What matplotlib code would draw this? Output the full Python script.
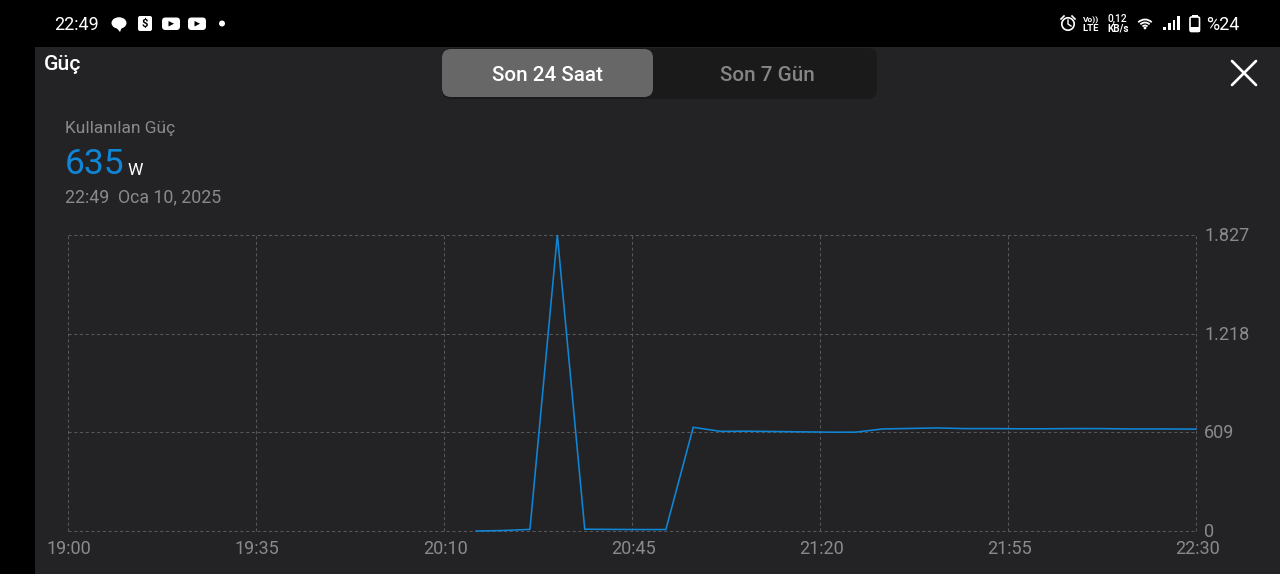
import matplotlib
matplotlib.use("Agg")
import matplotlib.pyplot as plt
from matplotlib.patches import Rectangle, FancyBboxPatch, Circle, Polygon, Ellipse, Arc
from matplotlib.transforms import ScaledTranslation

W, H = 1280, 574
plt.rcParams['font.family'] = ['Roboto', 'DejaVu Sans']

# ---- data ----
minutes = [76, 81, 86, 91.1, 96.2, 101.2, 106.2, 111.3, 116.4, 121.5, 126.5, 131.5, 136.6, 141.6,
           146.6, 151.7, 156.8, 161.8, 166.9, 171.9, 177, 182, 187.1, 192.2, 197.2, 202.3, 210]
power = [0, 3, 10, 1827, 11, 10, 9, 9, 640, 615, 616, 614, 612, 610,
         610, 630, 633, 636, 632, 632, 631, 631, 632, 632, 630, 630, 629]
x_ticks = [0, 35, 70, 105, 140, 175, 210]
x_labels = ["19:00", "19:35", "20:10", "20:45", "21:20", "21:55", "22:30"]
y_ticks = [0, 609, 1218, 1827]
y_labels = ["0", "609", "1.218", "1.827"]
title = "Güç"
tabs = ["Son 24 Saat", "Son 7 Gün"]
metric_label = "Kullanılan Güç"
metric_value = "635"
metric_unit = "W"
timestamp = "22:49  Oca 10, 2025"

BG = "#232325"
GRID = "#575759"
BLUE = "#0f86d6"
MUTED = "#8a8a8c"

fig = plt.figure(figsize=(W / 100, H / 100), dpi=100, facecolor="black")

# UI layer in pixel coordinates
ui = fig.add_axes([0, 0, 1, 1])
ui.set_xlim(0, W)
ui.set_ylim(H, 0)
ui.axis("off")
ui.add_patch(Rectangle((35, 47), W - 35, H - 47, fc=BG, ec="none"))

def txt(x, y, s, size, color, ha="left", weight="normal"):
    ui.text(x, y, s, fontsize=size, color=color, ha=ha, va="baseline", weight=weight)

# tabs
ui.add_patch(FancyBboxPatch((442, 48), 435, 51, boxstyle="round,pad=0,rounding_size=9",
                            fc="#1a1a1b", ec="none"))
ui.add_patch(FancyBboxPatch((442, 49), 211, 48, boxstyle="round,pad=0,rounding_size=9",
                            fc="#676768", ec="none"))
txt(547.5, 81, tabs[0], 14.9, "white", ha="center", weight="medium")
txt(767, 81, tabs[1], 14.9, "#858586", ha="center", weight="medium")

# header
txt(44, 70, title, 15.2, "white", weight="medium")
ui.plot([1232, 1256], [61, 85], color="white", lw=1.9, solid_capstyle="round")
ui.plot([1232, 1256], [85, 61], color="white", lw=1.9, solid_capstyle="round")
txt(65, 132.5, metric_label, 12.5, MUTED)
txt(65, 174, metric_value, 25.5, BLUE)
txt(127.5, 175, metric_unit, 12.5, "white")
txt(65, 202.5, timestamp, 12.8, MUTED)

# status bar, left
txt(54, 30.5, "22:49", 13, "white")
ui.add_patch(Ellipse((119, 23), 15, 11.5, fc="white", ec="none"))
ui.add_patch(Polygon([[115, 26], [122, 27], [120, 32]], fc="white", ec="none"))
ui.add_patch(FancyBboxPatch((138, 16), 14, 15, boxstyle="round,pad=0,rounding_size=2", fc="white", ec="none"))
ui.text(145, 24, "$", fontsize=8, color="black", ha="center", va="center", weight="bold", parse_math=False)
for cx in (171, 197):
    ui.add_patch(FancyBboxPatch((cx - 9, 17.5), 18, 12.5, boxstyle="round,pad=0,rounding_size=3.5", fc="white", ec="none"))
    ui.add_patch(Polygon([[cx - 2.5, 21], [cx - 2.5, 26.5], [cx + 3, 23.7]], fc="black", ec="none"))
ui.add_patch(Circle((222, 23.5), 3, fc="white", ec="none"))

# status bar, right
ui.add_patch(Circle((1068, 24), 6.2, fc="none", ec="white", lw=1.2))
ui.plot([1068, 1068, 1071], [20, 24, 26], color="white", lw=1)
ui.plot([1061, 1064], [19, 16], color="white", lw=1.2)
ui.plot([1072, 1075], [16, 19], color="white", lw=1.2)
ui.text(1091, 22, "Vo))", fontsize=6, color="white", ha="center", va="baseline", weight="bold")
ui.text(1090.5, 31, "LTE", fontsize=6.8, color="white", ha="center", va="baseline", weight="bold")
ui.text(1117.5, 22, "0,12", fontsize=7.4, color="white", ha="center", va="baseline", weight="medium")
ui.text(1118, 32, "KB/s", fontsize=7.2, color="white", ha="center", va="baseline", weight="bold")
for r in (19, 13, 7):
    ui.add_patch(Arc((1145, 29), r, r, theta1=225, theta2=315, color="white", lw=1.3))
ui.add_patch(Circle((1145, 28), 1.4, fc="white", ec="none"))
for x0, top in zip((1163, 1168, 1172.5, 1177), (27, 23, 20, 16)):
    ui.add_patch(Rectangle((x0, top), 2.6, 30 - top, fc="white", ec="none"))
ui.add_patch(FancyBboxPatch((1190, 17), 9.5, 14.5, boxstyle="round,pad=0,rounding_size=1.5", fc="black", ec="white", lw=1.2))
ui.add_patch(Rectangle((1192, 14.5), 5.5, 2.5, fc="white", ec="none"))
ui.add_patch(Rectangle((1190, 27), 9.5, 4.5, fc="white", ec="none"))
txt(1206, 30, "%24", 13, "white")

# chart
L, R, T, B = 68, 1196, 235, 531
ax = fig.add_axes([L / W, 1 - B / H, (R - L) / W, (B - T) / H])
ax.patch.set_alpha(0)
ax.set_xlim(0, 210)
ax.set_ylim(0, 1827)
for s in ax.spines.values():
    s.set_visible(False)
ax.set_xticks(x_ticks, x_labels)
ax.set_yticks(y_ticks, y_labels)
ax.yaxis.tick_right()
ax.tick_params(length=0, colors=MUTED, labelsize=13)
ax.tick_params(axis="x", pad=6.5)
ax.tick_params(axis="y", pad=5.8)
ax.grid(True, color=GRID, lw=0.75, dashes=(3, 2.5))
for gl in ax.get_xgridlines() + ax.get_ygridlines():
    gl.set_clip_on(False)
for lab in ax.get_xticklabels():
    lab.set_transform(lab.get_transform() + ScaledTranslation(1 / 100, 0, fig.dpi_scale_trans))
for lab in ax.get_yticklabels():
    lab.set_transform(lab.get_transform() + ScaledTranslation(0, 1 / 100, fig.dpi_scale_trans))
ax.set_axisbelow(True)
ax.plot(minutes, power, color=BLUE, lw=1.15, clip_on=False, solid_joinstyle="miter")

fig.savefig("out.png", dpi=100, facecolor="black")
